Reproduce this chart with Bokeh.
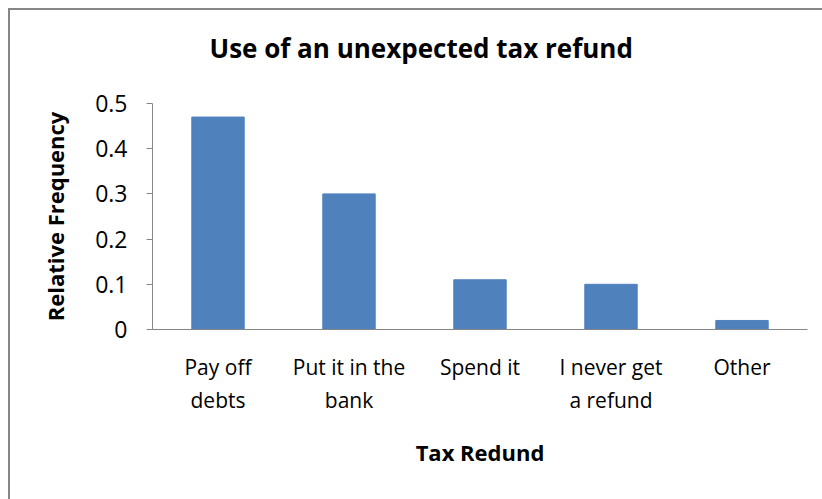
from bokeh.plotting import figure
from bokeh.models import Range1d, FixedTicker, Title
from bokeh.embed import file_html
from bokeh.resources import INLINE

categories = ["Pay off\ndebts", "Put it in the\nbank", "Spend it", "I never get\na refund", "Other"]
values = [0.47, 0.30, 0.11, 0.10, 0.02]
y_ticks = [0, 0.1, 0.2, 0.3, 0.4, 0.5]
title_text = "Use of an unexpected tax refund"
x_title = "Tax Redund"
y_title = "Relative Frequency"

FONT = "Open Sans"
GRAY = "#868686"

p = figure(x_range=categories, width=814, height=491, output_backend="svg",
           toolbar_location=None, min_border_left=142, min_border_right=17,
           min_border_top=92, min_border_bottom=172,
           styles={"margin-left": "8px", "margin-top": "8px",
                   "border-left": "2px solid #868686", "border-top": "2px solid #868686",
                   "box-sizing": "border-box"})
p.y_range = Range1d(0, 0.5)
p.vbar(x=categories, top=values, width=0.4, fill_color="#4F81BD", line_color="#4F81BD")

p.title = Title(text=title_text, align="left", offset=57, text_font=FONT, text_font_size="26px",
                text_font_style="bold", text_color="black", standoff=34)
# thin spacer panel between the title and the plot frame
p.add_layout(Title(text=" ", text_font_size="1px", standoff=18), "above")

p.outline_line_color = None
p.grid.grid_line_color = None
p.background_fill_color = "white"
p.border_fill_color = "white"

p.yaxis.ticker = FixedTicker(ticks=y_ticks)
p.yaxis.major_label_overrides = {0: "0"}
p.yaxis.minor_tick_line_color = None
p.yaxis.major_tick_in = 0
p.yaxis.major_tick_out = 6
p.yaxis.major_label_standoff = 19
p.yaxis.axis_line_color = GRAY
p.yaxis.major_tick_line_color = GRAY
p.yaxis.major_label_text_font = FONT
p.yaxis.major_label_text_font_size = "23px"
p.yaxis.major_label_text_color = "black"
p.yaxis.axis_label = y_title
p.yaxis.axis_label_text_font = FONT
p.yaxis.axis_label_text_font_size = "22px"
p.yaxis.axis_label_text_font_style = "bold"
p.yaxis.axis_label_text_color = "black"
p.yaxis.axis_label_standoff = 22

p.xaxis.axis_line_color = GRAY
p.xaxis.major_tick_line_color = None
p.xaxis.minor_tick_line_color = None
p.xaxis.major_label_text_font = FONT
p.xaxis.major_label_text_font_size = "21px"
p.xaxis.major_label_text_color = "black"
p.xaxis.major_label_standoff = 17
p.xaxis.major_label_orientation = "horizontal"
p.xaxis.axis_label = x_title
p.xaxis.axis_label_text_font = FONT
p.xaxis.axis_label_text_font_size = "22px"
p.xaxis.axis_label_text_font_style = "bold"
p.xaxis.axis_label_text_color = "black"
p.xaxis.axis_label_standoff = 20

p.x_range.range_padding = 0
p.x_range.factor_padding = 0

open("out.html", "w").write(file_html(p, INLINE))
